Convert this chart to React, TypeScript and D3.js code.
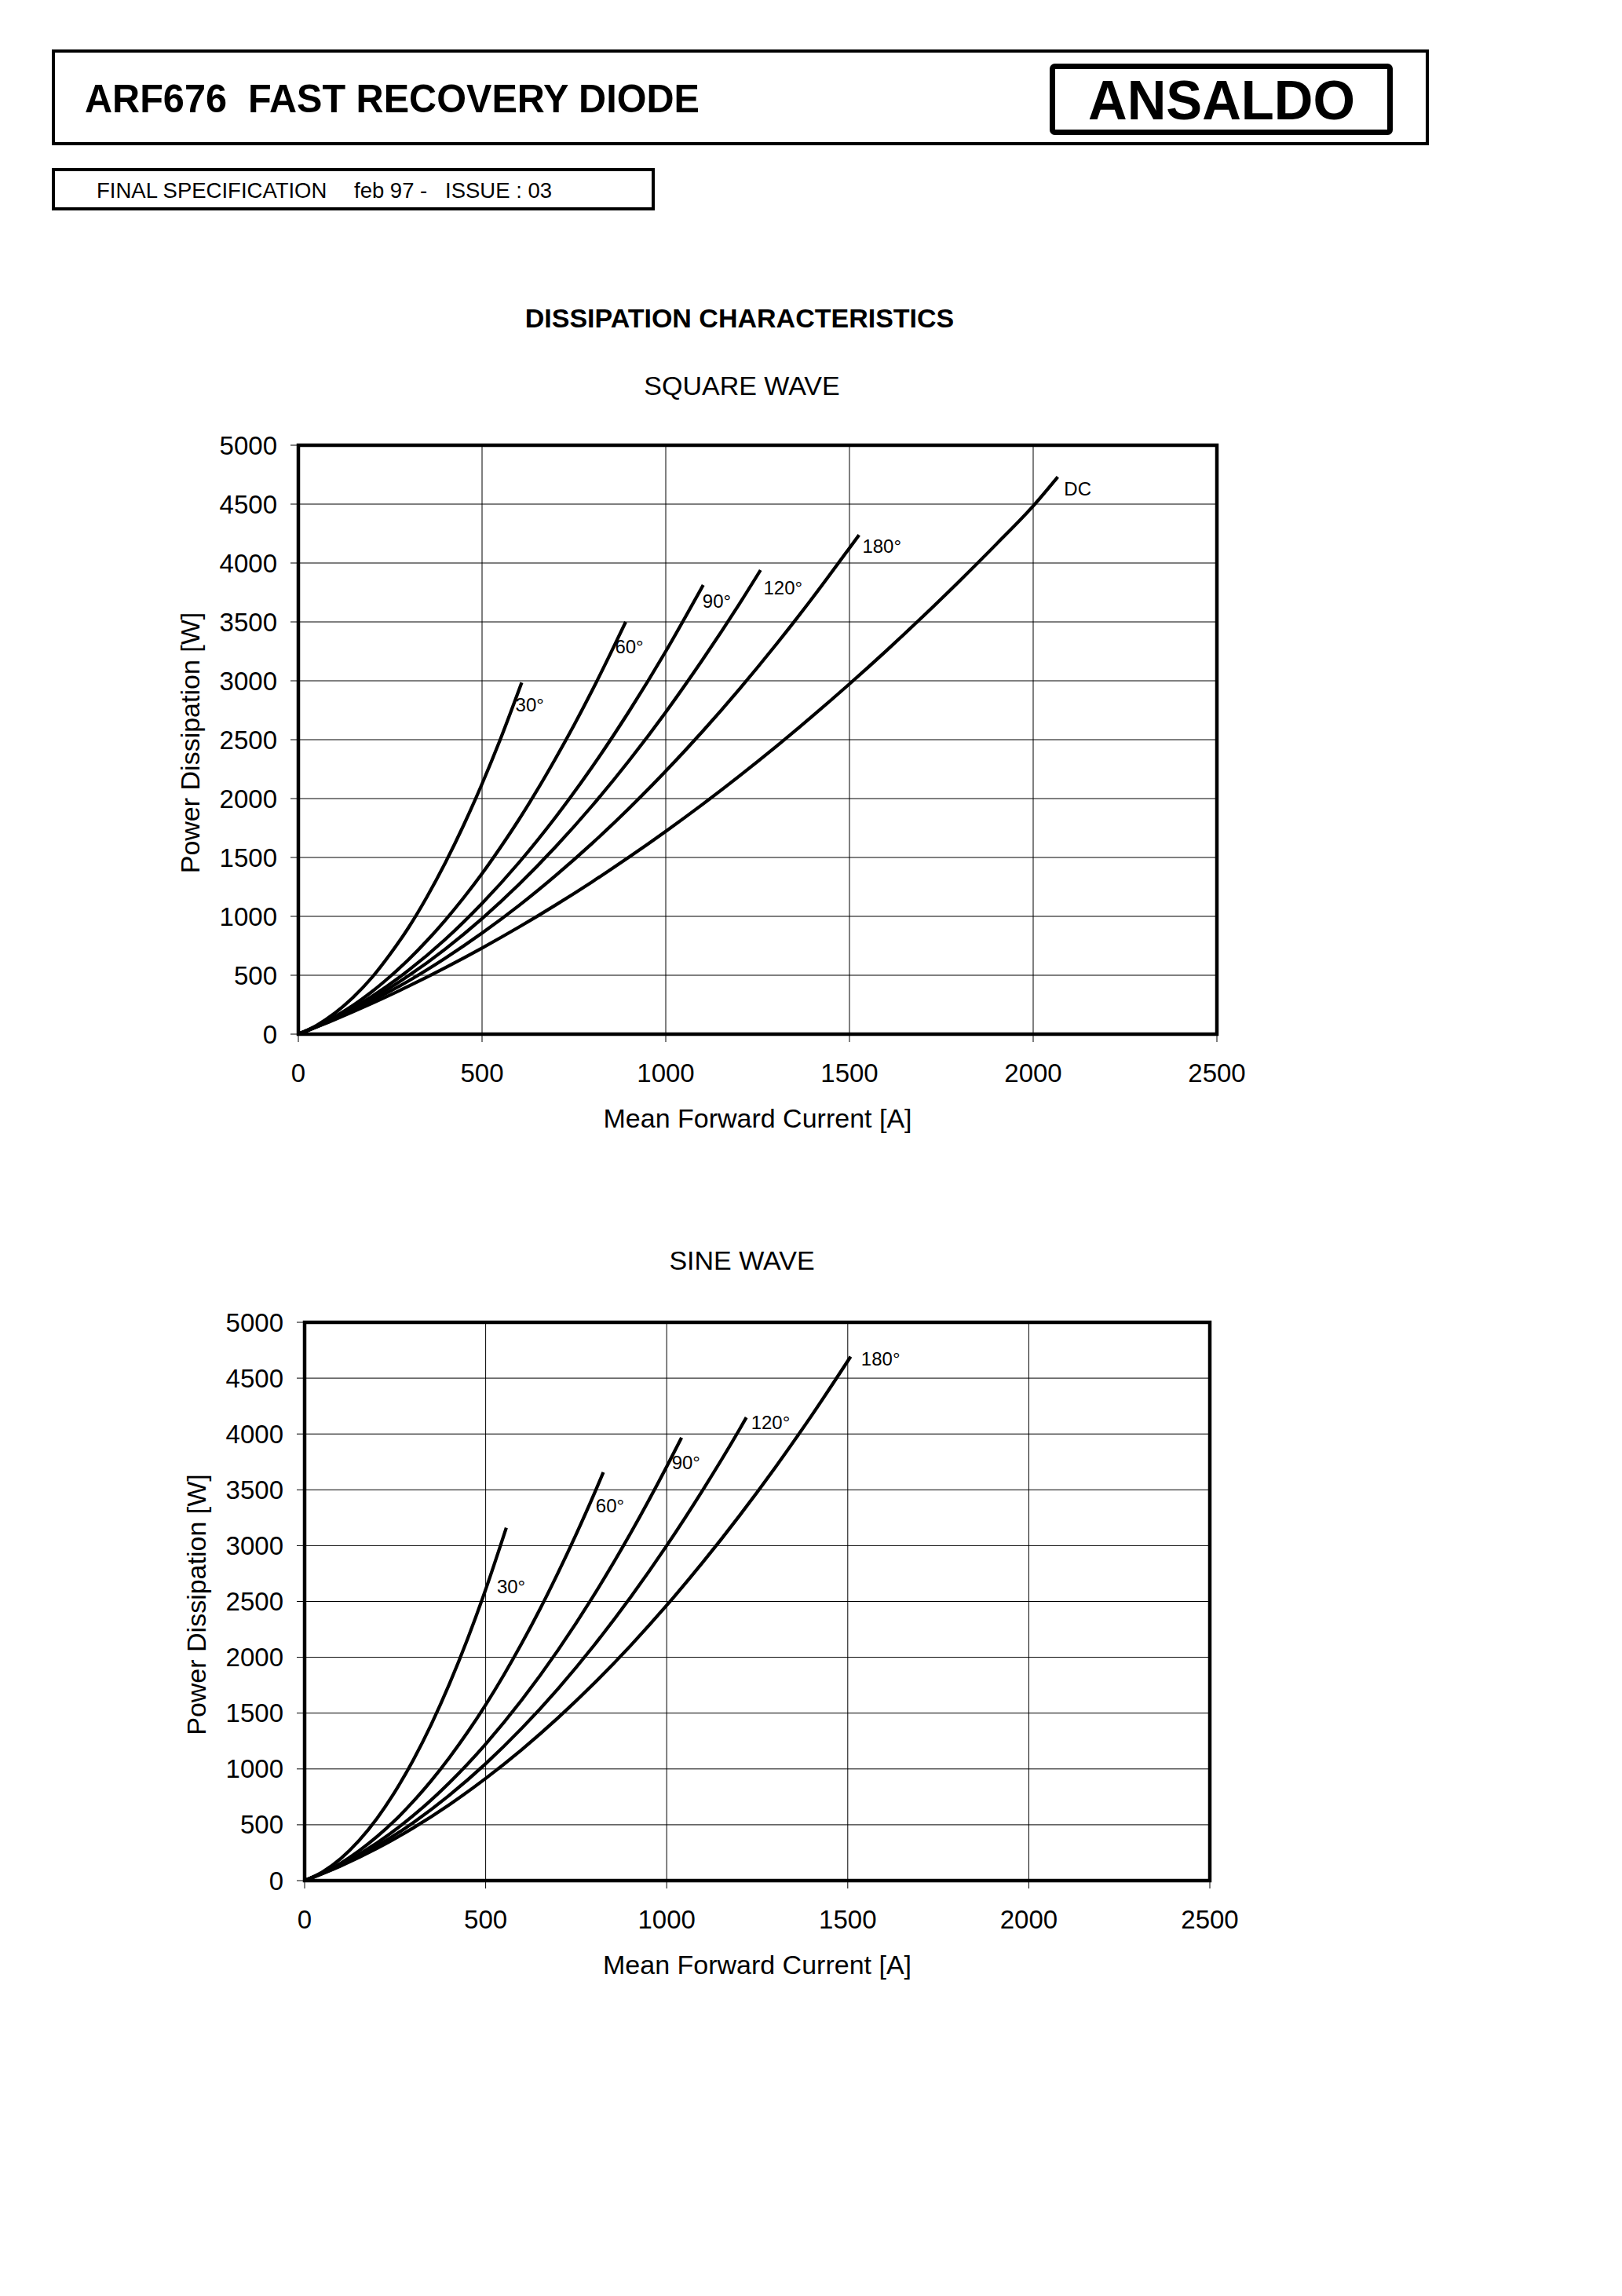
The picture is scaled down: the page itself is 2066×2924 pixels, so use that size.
import React from "react";
import * as d3 from "d3";

// ---------- data ----------
const xTicks = [0, 500, 1000, 1500, 2000, 2500];
const yTicks = [0, 500, 1000, 1500, 2000, 2500, 3000, 3500, 4000, 4500, 5000];

// Square wave
const sqNames = ["30°", "60°", "90°", "120°", "180°", "DC"];
const sqI30 = [0, 50, 100, 150, 200, 250, 300, 350, 400, 450, 500, 550, 608];
const sqP30 = [0, 75, 180, 315, 480, 680, 905, 1165, 1455, 1775, 2125, 2505, 2985];
const sqI60 = [0, 50, 100, 150, 200, 250, 300, 350, 400, 450, 500, 550, 600, 650, 700, 750, 800, 850, 891];
const sqP60 = [0, 67, 150, 247, 360, 490, 633, 793, 968, 1158, 1363, 1585, 1820, 2072, 2340, 2622, 2920, 3234, 3500];
const sqI90 = [0, 50, 100, 200, 300, 400, 500, 600, 700, 800, 900, 1000, 1102];
const sqP90 = [0, 65, 140, 320, 542, 805, 1110, 1455, 1842, 2270, 2740, 3250, 3814];
const sqI120 = [0, 100, 200, 300, 400, 500, 600, 700, 800, 900, 1000, 1100, 1200, 1258];
const sqP120 = [0, 135, 300, 496, 723, 981, 1270, 1590, 1940, 2322, 2734, 3178, 3651, 3940];
const sqI180 = [0, 100, 200, 300, 400, 500, 600, 700, 800, 900, 1000, 1100, 1200, 1300, 1400, 1500, 1526];
const sqP180 = [0, 130, 282, 452, 645, 858, 1091, 1346, 1621, 1917, 2233, 2570, 2928, 3307, 3706, 4127, 4238];
const sqIDC = [0, 100, 200, 300, 400, 500, 600, 700, 800, 900, 1000, 1100, 1200, 1300, 1400, 1500, 1600, 1700, 1800, 1900, 2000, 2067];
const sqPDC = [0, 125, 261, 407, 564, 731, 908, 1096, 1294, 1503, 1722, 1951, 2191, 2441, 2702, 2973, 3254, 3546, 3849, 4161, 4484, 4731];
const sqLabelI = [591, 862, 1100, 1266, 1535, 2084];
const sqLabelP = [2798, 3287, 3680, 3790, 4143, 4631];

// Sine wave
const siNames = ["30°", "60°", "90°", "120°", "180°"];
const siI30 = [0, 50, 100, 150, 200, 250, 300, 350, 400, 450, 500, 557];
const siP30 = [0, 79, 198, 358, 558, 799, 1080, 1401, 1762, 2164, 2607, 3160];
const siI60 = [0, 50, 100, 150, 200, 250, 300, 350, 400, 450, 500, 550, 600, 650, 700, 750, 800, 825];
const siP60 = [0, 69, 157, 266, 394, 541, 709, 896, 1103, 1329, 1575, 1841, 2127, 2432, 2757, 3102, 3466, 3657];
const siI90 = [0, 100, 200, 300, 400, 500, 600, 700, 800, 900, 1000, 1041];
const siP90 = [0, 144, 338, 582, 877, 1223, 1619, 2065, 2562, 3110, 3708, 3967];
const siI120 = [0, 100, 200, 300, 400, 500, 600, 700, 800, 900, 1000, 1100, 1200, 1220];
const siP120 = [0, 137, 310, 519, 765, 1047, 1365, 1719, 2110, 2537, 3000, 3500, 4035, 4148];
const siI180 = [0, 100, 200, 300, 400, 500, 600, 700, 800, 900, 1000, 1100, 1200, 1300, 1400, 1508];
const siP180 = [0, 132, 289, 472, 681, 915, 1174, 1458, 1768, 2104, 2465, 2852, 3264, 3701, 4164, 4693];
const siLabelI = [531, 804, 1014, 1233, 1537];
const siLabelP = [2631, 3359, 3745, 4101, 4674];

const FONT = "'Liberation Sans', Arial, Helvetica, sans-serif";

type Series = { name: string; xs: number[]; ys: number[]; lx: number; ly: number };

function buildSeries(names: string[], xs: number[][], ys: number[][], lx: number[], ly: number[]): Series[] {
  return names.map((n, i) => ({ name: n, xs: xs[i], ys: ys[i], lx: lx[i], ly: ly[i] }));
}

const squareSeries = buildSeries(
  sqNames,
  [sqI30, sqI60, sqI90, sqI120, sqI180, sqIDC],
  [sqP30, sqP60, sqP90, sqP120, sqP180, sqPDC],
  sqLabelI,
  sqLabelP
);
const sineSeries = buildSeries(
  siNames,
  [siI30, siI60, siI90, siI120, siI180],
  [siP30, siP60, siP90, siP120, siP180],
  siLabelI,
  siLabelP
);

function Panel({ left, right, top, bottom, series }: { left: number; right: number; top: number; bottom: number; series: Series[] }) {
  const x = d3.scaleLinear().domain([0, 2500]).range([left, right]);
  const y = d3.scaleLinear().domain([0, 5000]).range([bottom, top]);
  const line = d3
    .line<[number, number]>()
    .x((d) => x(d[0]))
    .y((d) => y(d[1]))
    .curve(d3.curveMonotoneX);
  const midX = (left + right) / 2;
  const midY = (top + bottom) / 2;
  return (
    <g>
      {xTicks.map((t) => (
        <line key={"gx" + t} x1={x(t)} x2={x(t)} y1={top} y2={bottom + 10} stroke="#000" strokeWidth={1} />
      ))}
      {yTicks.map((t) => (
        <line key={"gy" + t} x1={left - 10} x2={right} y1={y(t)} y2={y(t)} stroke="#000" strokeWidth={1} />
      ))}
      {series.map((s) => (
        <path
          key={"c" + s.name}
          d={line(s.xs.map((v, i) => [v, s.ys[i]] as [number, number])) || ""}
          fill="none"
          stroke="#000"
          strokeWidth={4.2}
        />
      ))}
      <rect x={left} y={top} width={right - left} height={bottom - top} fill="none" stroke="#000" strokeWidth={4.5} />
      {series.map((s) => (
        <text key={"l" + s.name} x={x(s.lx)} y={y(s.ly)} fontSize={24} fontFamily={FONT} dominantBaseline="central">
          {s.name}
        </text>
      ))}
      {yTicks.map((t) => (
        <text key={"ty" + t} x={left - 27} y={y(t)} fontSize={33} fontFamily={FONT} textAnchor="end" dominantBaseline="central">
          {t}
        </text>
      ))}
      {xTicks.map((t) => (
        <text key={"tx" + t} x={x(t)} y={bottom + 61} fontSize={33} fontFamily={FONT} textAnchor="middle">
          {t}
        </text>
      ))}
      <text x={midX} y={bottom + 119} fontSize={34} fontFamily={FONT} textAnchor="middle">
        Mean Forward Current [A]
      </text>
      <text
        transform={`translate(${left - 126},${midY + 4}) rotate(-90)`}
        fontSize={34}
        fontFamily={FONT}
        textAnchor="middle"
      >
        Power Dissipation [W]
      </text>
    </g>
  );
}

export default function App() {
  return (
    <svg
      width={2066}
      height={2924}
      viewBox="0 0 2066 2924"
      style={{ position: "absolute", left: 0, top: 0, background: "#fff" }}
    >
      <rect x={0} y={0} width={2066} height={2924} fill="#fff" />
      {/* header */}
      <rect x={68} y={65} width={1750} height={118} fill="none" stroke="#000" strokeWidth={4} />
      <text x={108} y={143} fontSize={50} fontWeight="bold" fontFamily={FONT} textLength={783} lengthAdjust="spacingAndGlyphs" style={{ whiteSpace: "pre" }}>
        {"ARF676  FAST RECOVERY DIODE"}
      </text>
      <rect x={1340.5} y={84.5} width={430} height={84} rx={3} fill="none" stroke="#000" strokeWidth={7} />
      <text x={1556} y={152} fontSize={70} fontWeight="bold" fontFamily={FONT} textAnchor="middle" textLength={340} lengthAdjust="spacingAndGlyphs">
        ANSALDO
      </text>
      <rect x={68} y={216} width={764} height={50} fill="none" stroke="#000" strokeWidth={4} />
      <text x={123} y={252} fontSize={27.5} fontFamily={FONT}>FINAL SPECIFICATION</text>
      <text x={451} y={252} fontSize={27.5} fontFamily={FONT}>feb 97 -</text>
      <text x={567} y={252} fontSize={27.5} fontFamily={FONT}>ISSUE : 03</text>

      <text x={942} y={417} fontSize={34} fontWeight="bold" fontFamily={FONT} textAnchor="middle">
        DISSIPATION CHARACTERISTICS
      </text>
      <text x={945} y={503} fontSize={34} fontFamily={FONT} textAnchor="middle">
        SQUARE WAVE
      </text>
      <Panel left={380} right={1550} top={567} bottom={1317} series={squareSeries} />

      <text x={945} y={1617} fontSize={34} fontFamily={FONT} textAnchor="middle">
        SINE WAVE
      </text>
      <Panel left={388} right={1541} top={1684} bottom={2395} series={sineSeries} />
    </svg>
  );
}
